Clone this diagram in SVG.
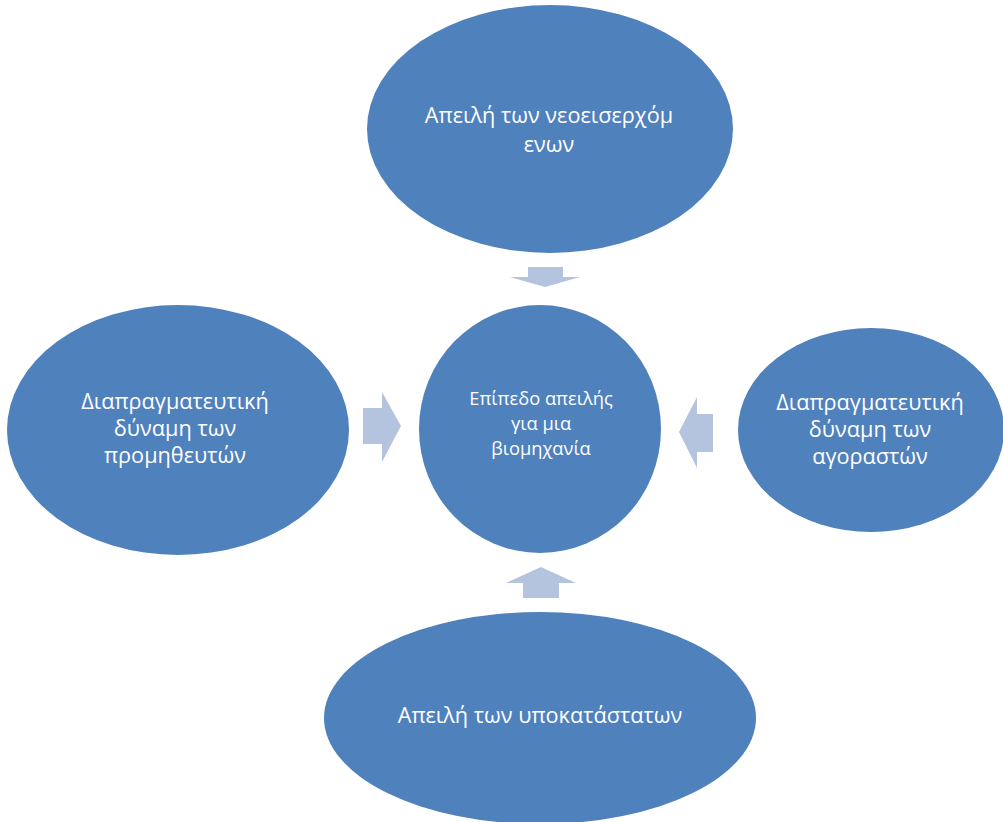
<svg xmlns="http://www.w3.org/2000/svg" width="1003" height="822" viewBox="0 0 1003 822">
<style>
.node{fill:#4F81BD;}
.arrow{fill:#B4C3DE;}
text{fill:#FFFFFF;font-family:"Open Sans","Noto Sans","Liberation Sans",sans-serif;text-anchor:middle;}
.big{font-size:21.7px;}
.small{font-size:18.3px;}
</style>
<rect width="1003" height="822" fill="#FFFFFF"/>
<g id="connectors">
<polygon class="arrow" points="528,267 563,267 563,277 580,277 545,287 510,277 528,277"/>
<polygon class="arrow" points="363,408 382,408 382,392 401,426 382,462 382,444 363,444"/>
<polygon class="arrow" points="713,414 697,414 697,397 679,432 697,468 697,452 713,452"/>
<polygon class="arrow" points="523,598 559,598 559,583 576,583 541,567 506,583 523,583"/>
</g>
<g id="node-top">
<ellipse class="node" cx="550" cy="129" rx="183" ry="124"/>
<text class="big" x="549" y="123">Απειλή των νεοεισερχόμ</text>
<text class="big" x="549" y="152">ενων</text>
</g>
<g id="node-center">
<ellipse class="node" cx="540" cy="429" rx="121" ry="124"/>
<text class="small" x="541" y="405">Επίπεδο απειλής</text>
<text class="small" x="541" y="430">για μια</text>
<text class="small" x="541" y="455">βιομηχανία</text>
</g>
<g id="node-left">
<ellipse class="node" cx="178" cy="430" rx="171" ry="125"/>
<text class="big" x="175" y="409">Διαπραγματευτική</text>
<text class="big" x="175" y="436">δύναμη των</text>
<text class="big" x="175" y="463">προμηθευτών</text>
</g>
<g id="node-right">
<ellipse class="node" cx="871" cy="430" rx="133" ry="102"/>
<text class="big" x="870" y="410">Διαπραγματευτική</text>
<text class="big" x="870" y="437">δύναμη των</text>
<text class="big" x="870" y="464">αγοραστών</text>
</g>
<g id="node-bottom">
<ellipse class="node" cx="540" cy="718" rx="216" ry="106"/>
<text class="big" x="540" y="723">Απειλή των υποκατάστατων</text>
</g>
</svg>
